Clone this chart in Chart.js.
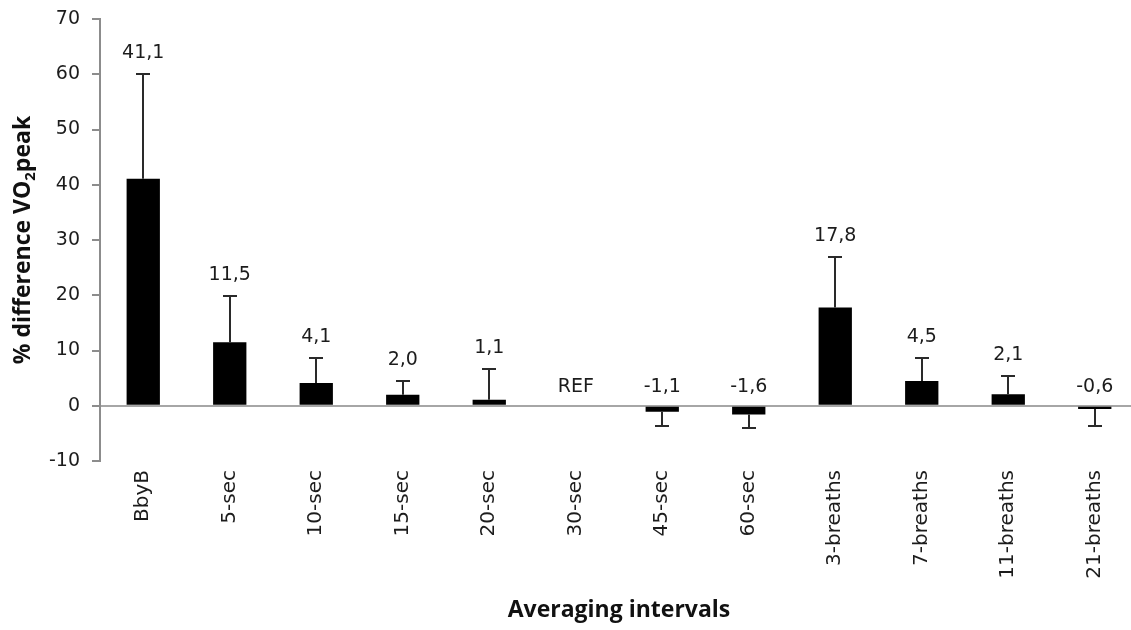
<!DOCTYPE html>
<html>
<head>
<meta charset="utf-8">
<script src="https://cdn.jsdelivr.net/npm/chart.js@4.4.1/dist/chart.umd.min.js"></script>
<style>
  html, body { margin: 0; padding: 0; background: #ffffff; overflow: hidden; }
  #wrap { position: relative; width: 1140px; height: 630px; }
</style>
</head>
<body>
<div id="wrap"><canvas id="chart" width="1140" height="630"></canvas></div>
<script>
// Averaging intervals and the mean % difference in VO2peak against the 30-sec reference
const categories = ['BbyB', '5-sec', '10-sec', '15-sec', '20-sec', '30-sec', '45-sec', '60-sec', '3-breaths', '7-breaths', '11-breaths', '21-breaths'];
const meanDiff = [41.1, 11.5, 4.1, 2.0, 1.1, null, -1.1, -1.6, 17.8, 4.5, 2.1, -0.6];
const sdDiff = [18.9, 8.4, 4.6, 2.5, 5.6, null, 2.6, 2.4, 9.1, 4.2, 3.3, 3.1];
const referenceLabel = 'REF';
const yTicks = [-10, 0, 10, 20, 30, 40, 50, 60, 70];

const xTitle = 'Averaging intervals';
const yTitleParts = ['% difference VO', '2', 'peak'];

const AXIS_GREY = '#8c8c8c';
const TEXT = '#1c1c1c';

function formatValue(v) {
  return v === null ? referenceLabel : v.toFixed(1).replace('.', ',');
}

// One-sided SD whiskers plus the value labels above each bar
const whiskersAndLabels = {
  id: 'whiskersAndLabels',
  afterDatasetsDraw(chart) {
    const { ctx } = chart;
    const x = chart.scales.x, y = chart.scales.y;
    ctx.save();
    ctx.strokeStyle = '#2a2a2a';
    ctx.lineWidth = 2;
    meanDiff.forEach((v, i) => {
      const cx = Math.round(x.getPixelForValue(i));
      if (v !== null) {
        const end = v >= 0 ? v + sdDiff[i] : v - sdDiff[i];
        const y0 = y.getPixelForValue(v);
        const y1 = Math.round(y.getPixelForValue(end));
        ctx.beginPath();
        ctx.moveTo(cx, y0);
        ctx.lineTo(cx, y1);
        ctx.moveTo(cx - 7, y1);
        ctx.lineTo(cx + 7, y1);
        ctx.stroke();
      }
    });
    ctx.fillStyle = TEXT;
    ctx.font = '19px "DejaVu Sans"';
    ctx.textAlign = 'center';
    ctx.textBaseline = 'middle';
    meanDiff.forEach((v, i) => {
      const cx = x.getPixelForValue(i);
      let ly;
      if (v !== null && v > 0) {
        ly = y.getPixelForValue(v + sdDiff[i]) - 21;
      } else {
        ly = y.getPixelForValue(0) - 19;
      }
      ctx.fillText(formatValue(v), cx, ly);
    });
    ctx.restore();
  }
};

// Axis titles (the y title carries a subscript)
const axisTitles = {
  id: 'axisTitles',
  afterDraw(chart) {
    const { ctx, chartArea } = chart;
    ctx.save();
    ctx.fillStyle = '#111111';
    ctx.textBaseline = 'alphabetic';

    const mainFont = 'bold 23px "Open Sans"';
    const subFont = 'bold 15px "Open Sans"';

    // x title
    ctx.font = mainFont;
    ctx.textAlign = 'center';
    ctx.fillText(xTitle, (chartArea.left + chartArea.right) / 2, 617);

    // y title, rotated to read upwards
    ctx.font = mainFont;
    const w1 = ctx.measureText(yTitleParts[0]).width;
    const w3 = ctx.measureText(yTitleParts[2]).width;
    ctx.font = subFont;
    const w2 = ctx.measureText(yTitleParts[1]).width;
    const total = w1 + w2 + w3;
    const cy = (chartArea.top + chartArea.bottom) / 2;
    ctx.translate(22, cy);
    ctx.rotate(-Math.PI / 2);
    ctx.textAlign = 'left';
    let u = -total / 2;
    const base = 8;
    ctx.font = mainFont;
    ctx.fillText(yTitleParts[0], u, base);
    u += w1;
    ctx.font = subFont;
    ctx.fillText(yTitleParts[1], u, base + 5);
    u += w2;
    ctx.font = mainFont;
    ctx.fillText(yTitleParts[2], u, base);
    ctx.restore();
  }
};

new Chart(document.getElementById('chart'), {
  type: 'bar',
  data: {
    labels: categories,
    datasets: [{
      data: meanDiff,
      backgroundColor: '#000000',
      borderWidth: 0,
      barPercentage: 0.385,
      categoryPercentage: 1.0
    }]
  },
  options: {
    responsive: false,
    devicePixelRatio: 1,
    animation: false,
    layout: { padding: { top: 19, right: 2, left: 0, bottom: 0 } },
    plugins: {
      legend: { display: false },
      tooltip: { enabled: false }
    },
    scales: {
      x: {
        grid: { display: false, drawTicks: false },
        border: { display: false },
        ticks: {
          color: TEXT,
          font: { family: 'DejaVu Sans', size: 20 },
          minRotation: 90,
          maxRotation: 90,
          autoSkip: false,
          padding: 9
        },
        afterFit(scale) {
          scale.height = 169;
          scale.paddingLeft = 0;
          scale.paddingRight = 0;
        }
      },
      y: {
        min: -10,
        max: 70,
        afterBuildTicks(scale) {
          scale.ticks = yTicks.map(v => ({ value: v }));
        },
        grid: {
          drawOnChartArea: true,
          color: ctx => (ctx.tick && ctx.tick.value === 0 ? '#a6a6a6' : 'rgba(0,0,0,0)'),
          lineWidth: 2,
          tickColor: AXIS_GREY,
          tickLength: 8,
          tickWidth: 2
        },
        border: { display: true, color: AXIS_GREY, width: 2 },
        ticks: {
          color: TEXT,
          font: { family: 'DejaVu Sans', size: 19 },
          padding: 12
        },
        afterFit(scale) {
          scale.width = 100;
          scale.paddingTop = 0;
          scale.paddingBottom = 0;
        }
      }
    }
  },
  plugins: [whiskersAndLabels, axisTitles]
});
</script>
</body>
</html>
